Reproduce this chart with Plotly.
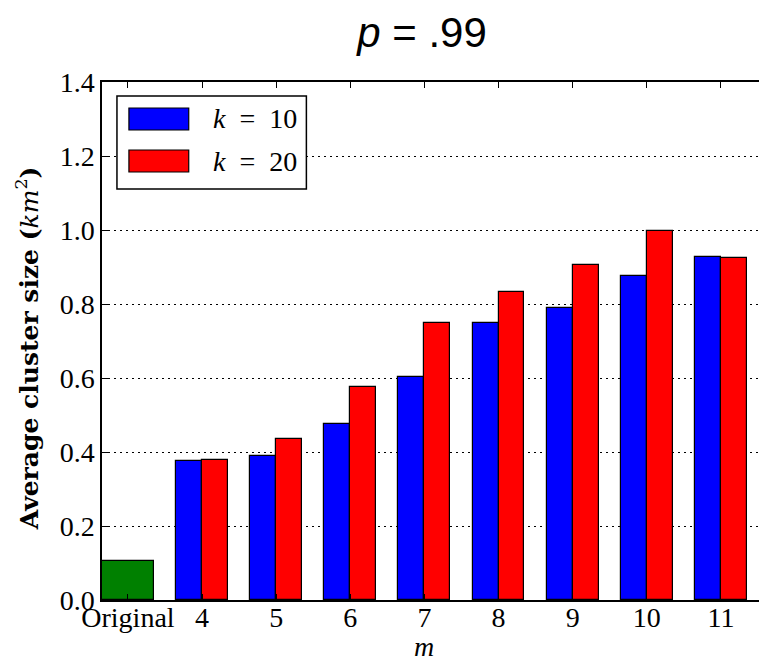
import plotly.graph_objects as go

# ---- data ----
categories = ["Original", "4", "5", "6", "7", "8", "9", "10", "11"]
original_value = [0.106]
m_values = ["4", "5", "6", "7", "8", "9", "10", "11"]
k10_values = [0.375, 0.388, 0.475, 0.603, 0.749, 0.788, 0.875, 0.927]
k20_values = [0.378, 0.435, 0.577, 0.748, 0.832, 0.905, 0.997, 0.923]
y_ticks = [0.0, 0.2, 0.4, 0.6, 0.8, 1.0, 1.2, 1.4]

# ---- layout helpers ----
group_w = 0.7
half_w = group_w / 2
group_idx = list(range(1, len(m_values) + 1))

serif = "Liberation Serif"

fig = go.Figure()
fig.add_trace(go.Bar(
    x=[half_w], y=original_value, width=[group_w],
    marker=dict(color="#008000", line=dict(color="black", width=1.2)),
    name="Original", showlegend=False,
))
fig.add_trace(go.Bar(
    x=[i + half_w / 2 for i in group_idx], y=k10_values, width=half_w,
    marker=dict(color="#0000ff", line=dict(color="black", width=1.2)),
    name="k = 10", showlegend=False,
))
fig.add_trace(go.Bar(
    x=[i + 3 * half_w / 2 for i in group_idx], y=k20_values, width=half_w,
    marker=dict(color="#ff0000", line=dict(color="black", width=1.2)),
    name="k = 20", showlegend=False,
))

tickvals = [i + half_w for i in range(len(categories))]

# page is offset by the 8px body margin; figure sized to fit the window
W, H = 759, 656
fig.update_layout(
    width=W, height=H,
    margin=dict(l=94, r=0, t=74, b=64),
    plot_bgcolor="white", paper_bgcolor="white",
    barmode="overlay", bargap=0,
    title=dict(text="<i>p</i> = .99", x=414 / W, xanchor="center",
               y=1 - 24 / H, yanchor="middle",
               font=dict(family="Liberation Sans", size=42, color="black")),
    xaxis=dict(
        range=[0, 8.945], tickvals=tickvals, ticktext=categories,
        ticks="inside", ticklen=6, tickcolor="black", tickwidth=1,
        showline=True, linecolor="black", linewidth=1.5, mirror="ticks",
        showgrid=False, zeroline=False, layer="above traces",
        ticklabelstandoff=-8,
        tickfont=dict(family=serif, size=28, color="black"),
    ),
    yaxis=dict(
        range=[0, 1.4], tickvals=y_ticks, ticktext=[f"{v:.1f}" for v in y_ticks],
        ticks="inside", ticklen=6, tickcolor="black", tickwidth=1,
        showline=True, linecolor="black", linewidth=1.5, mirror="ticks",
        showgrid=True, gridcolor="black", gridwidth=1, griddash="2px,4px",
        zeroline=False, layer="above traces",
        tickfont=dict(family=serif, size=28, color="black"),
    ),
)

# ---- paper-coordinate helpers (reference page pixels -> plot paper) ----
def px_x(px):
    return (px - 102) / 665

def px_y(py):
    return 1 - (py - 82) / 518

# axis titles
fig.add_annotation(xref="paper", yref="paper", x=px_x(425), y=px_y(646),
                   text="<i>m</i>", showarrow=False, xanchor="center", yanchor="middle",
                   font=dict(family=serif, size=28, color="black"))
fig.add_annotation(xref="paper", yref="paper", x=px_x(27), y=px_y(348),
                   text="<b>Average cluster size (</b><i>km</i><sup>2</sup><b>)</b>",
                   textangle=-90, showarrow=False, xanchor="center", yanchor="middle",
                   font=dict(family="DejaVu Serif", size=25, color="black"))

# ---- custom legend (matplotlib style) ----
fig.add_shape(type="rect", xref="paper", yref="paper",
              x0=px_x(117), x1=px_x(307), y0=px_y(189), y1=px_y(96),
              line=dict(color="black", width=1.5), fillcolor="white", layer="above")
legend_items = [("#0000ff", "<i>k</i>\u2002=\u200210", 108, 130),
                ("#ff0000", "<i>k</i>\u2002=\u200220", 150, 172)]
for color, label, top, bot in legend_items:
    fig.add_shape(type="rect", xref="paper", yref="paper",
                  x0=px_x(129), x1=px_x(189), y0=px_y(bot), y1=px_y(top),
                  line=dict(color="black", width=1.2), fillcolor=color, layer="above")
    fig.add_annotation(xref="paper", yref="paper", x=px_x(211), y=px_y((top + bot) / 2),
                       text=label, showarrow=False, xanchor="left", yanchor="middle",
                       font=dict(family=serif, size=28, color="black"))

fig.write_html("out.html")
